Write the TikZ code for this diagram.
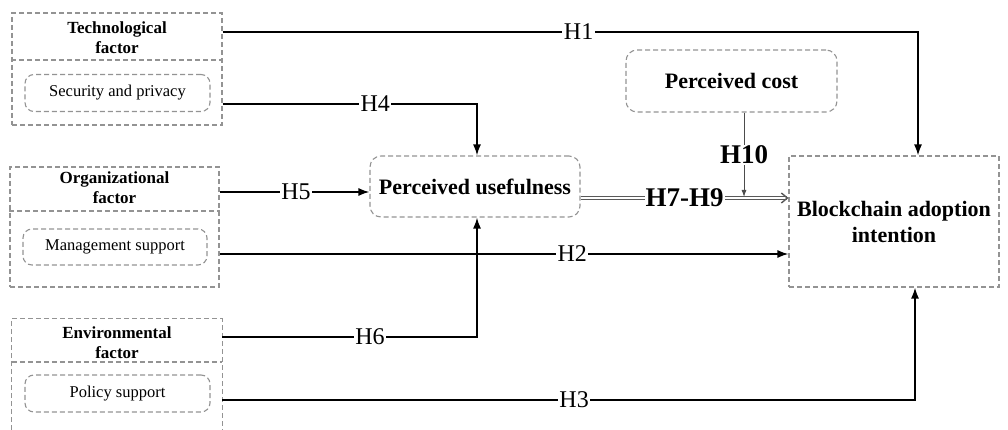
\documentclass[tikz,border=0pt]{standalone}
\usepackage{fontspec}
\setmainfont{Liberation Serif}
\usetikzlibrary{arrows.meta,calc}
\begin{document}
\begin{tikzpicture}[x=1pt,y=-1pt,
  dbox/.style={draw=gray!85,dash pattern=on 5pt off 3pt,line width=1.1pt},
  rbox/.style={dbox,rounded corners=9pt,inner sep=0pt},
  titletxt/.style={font=\fontsize{17}{20}\selectfont\bfseries,align=center},
  subtxt/.style={font=\fontsize{16.5}{20}\selectfont},
  bigtxt/.style={font=\fontsize{22}{26}\selectfont\bfseries,align=center},
  hlab/.style={fill=white,inner sep=1.5pt,font=\fontsize{24}{26}\selectfont},
  hbold/.style={fill=white,inner sep=1pt,font=\fontsize{27}{29}\selectfont\bfseries},
  arr/.style={line width=1.6pt,-{Latex[length=11pt,width=8pt]}},
  dbl/.style={draw=gray!70!black,double=white,double distance=1.4pt,line width=1pt,-{Straight Barb[length=6pt,width=10pt,line width=1.4pt]}},
  thinarr/.style={draw=gray!60!black,line width=0.9pt,-{Latex[length=7pt,width=5pt]}}
]
\useasboundingbox (0,0) rectangle (1008,430);

% Technological factor
\node[dbox,minimum width=210pt,minimum height=112pt,inner sep=0pt] (tech) at (117,69) {};
\node[titletxt] (techt) at (117,38) {Technological\\factor};
\draw[dbox] (tech.west |- 0,60) -- (tech.east |- 0,60);
\node[rbox,minimum width=185pt,minimum height=37pt,subtxt] (sec) at (117.5,93) {Security and privacy};

% Organizational factor
\node[dbox,minimum width=209pt,minimum height=120pt,inner sep=0pt] (org) at (114.5,227) {};
\node[titletxt] (orgt) at (114.5,188) {Organizational\\factor};
\draw[dbox] (org.west |- 0,211) -- (org.east |- 0,211);
\node[rbox,minimum width=184pt,minimum height=36pt,subtxt] (mgmt) at (115,247) {Management support};

% Environmental factor (bottom edge outside the picture)
\node[minimum width=210pt,minimum height=111pt,inner sep=0pt] (env) at (117,374.5) {};
\draw[dbox] (env.south west) |- (env.north east) -- (env.south east);
\node[titletxt] (envt) at (117,343) {Environmental\\factor};
\draw[dbox] (env.west |- 0,362) -- (env.east |- 0,362);
\node[rbox,minimum width=185pt,minimum height=37pt,subtxt] (pol) at (117.5,393.5) {Policy support};

% Central constructs
\node[rbox,rounded corners=11pt,minimum width=210pt,minimum height=61pt,bigtxt] (pu) at (475,186.5) {Perceived usefulness};
\node[rbox,rounded corners=11pt,minimum width=211pt,minimum height=62pt,bigtxt] (cost) at (731.5,81) {Perceived cost};
\node[dbox,minimum width=210pt,minimum height=131pt,inner sep=0pt,bigtxt] (bai) at (894,221.5) {Blockchain adoption\\intention};

% H1
\draw[arr] (tech.east |- 0,32) -| ([xshift=24pt]bai.north) node[pos=0.256,hlab] {H1};
% H4
\draw[arr] (tech.east |- 0,104) -| ([xshift=2pt]pu.north) node[pos=0.30,hlab] {H4};
% H5
\draw[arr] (org.east |- 0,192) -- (pu.west |- 0,192) node[pos=0.51,hlab] {H5};
% H2
\draw[arr] (org.east |- 0,254) -- (bai.west |- 0,254) node[pos=0.62,hlab] {H2};
% H6
\draw[arr] (env.east |- 0,337) -| ([xshift=2pt]pu.south) node[pos=0.29,hlab] {H6};
% H3
\draw[arr] (env.east |- 0,400) -| ([xshift=21pt]bai.south) node[pos=0.254,hlab] {H3};
% H7-H9
\coordinate (mod) at (744,197);
\draw[dbl] (pu.east |- 0,198) -- (bai.west |- 0,198) node[pos=0.5,hbold] {H7-H9};
% H10
\draw[thinarr] ([xshift=12.5pt]cost.south) -- (mod) node[pos=0.5,hbold] {H10};
\end{tikzpicture}
\end{document}
